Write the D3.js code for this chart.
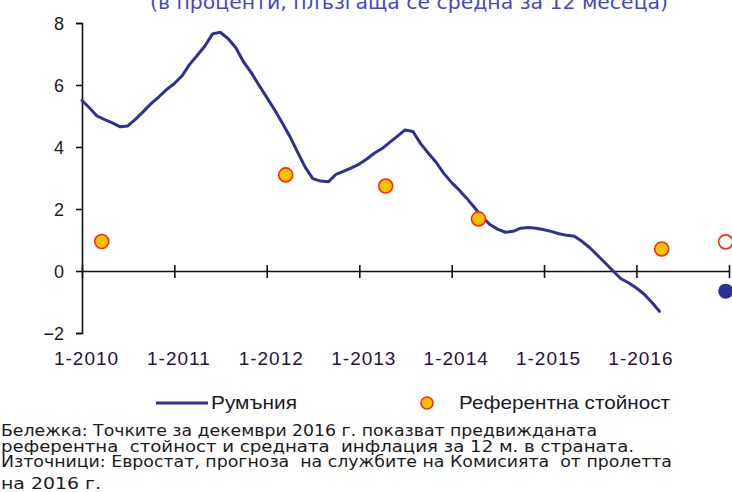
<!DOCTYPE html>
<html>
<head>
<meta charset="utf-8">
<script src="https://cdn.jsdelivr.net/npm/d3@7"></script>
<style>
  body { margin: 0; background: #fff; }
  svg { display: block; }
  .tick text { font-family: "Liberation Sans", Arial, sans-serif; }
</style>
</head>
<body>
<div id="container"><svg></svg></div>
<script>
let width = 732;
let height = 492;

// месечни стойности, Румъния (от 1-2010 до 4-2016)
let startMonth = '2010-01-01';
let romania = [
    5.5, 5.25, 5.0, 4.88, 4.78, 4.65, 4.68, 4.9, 5.15, 5.4, 5.62, 5.85,
    6.05, 6.3, 6.65, 6.95, 7.25, 7.65, 7.7, 7.5, 7.2, 6.75, 6.4, 6.0,
    5.6, 5.2, 4.8, 4.35, 3.85, 3.35, 2.98, 2.9, 2.88, 3.12, 3.22, 3.33,
    3.45, 3.62, 3.8, 3.95, 4.15, 4.35, 4.55, 4.5, 4.1, 3.8, 3.5, 3.15,
    2.85, 2.6, 2.35, 2.05, 1.75, 1.5, 1.35, 1.25, 1.28, 1.38, 1.4, 1.38,
    1.33, 1.27, 1.2, 1.15, 1.12, 0.95, 0.75, 0.5, 0.25, 0.0, -0.25, -0.38,
    -0.55, -0.75, -1.0, -1.3
];
// референтна стойност
let refDates = ['2010-03-20', '2012-03-16', '2013-04-15', '2014-04-17', '2016-04-10'];
let refValues = [0.95, 3.1, 2.74, 1.68, 0.71];
// прогноза за декември 2016
let forecastDate = '2016-12-19';
let forecastRef = 0.94;
let forecastRomania = -0.65;

let xTickDates = ['2010-01-01', '2011-01-01', '2012-01-01', '2013-01-01', '2014-01-01', '2015-01-01', '2016-01-01', '2017-01-01'];
let xTickLabels = ['1-2010', '1-2011', '1-2012', '1-2013', '1-2014', '1-2015', '1-2016', ''];
let yTicks = [-2, 0, 2, 4, 6, 8];

let parse = d3.timeParse('%Y-%m-%d');
let lineColor = '#2e3192';

let svg = d3.select('#container').select('svg')
    .attr('width', width)
    .attr('height', height);

let x = d3.scaleTime()
    .domain([parse('2010-01-01'), parse('2017-01-01')])
    .range([82, 729]);
let y = d3.scaleLinear()
    .domain([-2, 8])
    .range([333, 23]);

// заглавие (отрязано отгоре)
svg.append('text')
    .attr('x', 150).attr('y', 9)
    .attr('textLength', 518)
    .attr('lengthAdjust', 'spacingAndGlyphs')
    .attr('font-family', '"DejaVu Sans", sans-serif')
    .attr('font-size', 19)
    .attr('fill', '#4646cc')
    .text('(в проценти, плъзгаща се средна за 12 месеца)');

// оста y
let yAxis = svg.append('g')
    .attr('transform', 'translate(82,0)')
    .call(d3.axisLeft(y).tickValues(yTicks).tickSize(6).tickPadding(12).tickFormat(d3.format('d')));
yAxis.select('.domain').attr('stroke', '#111').attr('stroke-width', 1.6);
yAxis.selectAll('.tick line').attr('stroke', '#111').attr('stroke-width', 1.6);
yAxis.selectAll('.tick text')
    .attr('font-size', 18)
    .attr('fill', '#1a1a1a')
    .attr('dy', '0.36em');

// оста x при нула
let xAxis = svg.append('g')
    .attr('transform', `translate(0,${y(0)})`)
    .call(d3.axisBottom(x).tickValues(xTickDates.map(parse)).tickSizeOuter(0).tickSize(0)
        .tickFormat((d, i) => xTickLabels[i]));
xAxis.select('.domain').attr('stroke', '#111').attr('stroke-width', 1.6);
xAxis.selectAll('.tick line').remove();
xAxis.selectAll('.tick').append('line')
    .attr('y1', -6).attr('y2', 7)
    .attr('stroke', '#111').attr('stroke-width', 1.6);
xAxis.selectAll('.tick text')
    .attr('y', 365 - y(0))
    .attr('dy', 0)
    .attr('dx', 4)
    .attr('font-size', 19)
    .attr('letter-spacing', 1)
    .attr('fill', '#2a1040');

// линия Румъния
let monthly = romania.map((v, i) => ({ date: d3.timeMonth.offset(parse(startMonth), i), value: v }));
let line = d3.line()
    .x(d => x(d.date))
    .y(d => y(d.value));
svg.append('path')
    .datum(monthly)
    .attr('fill', 'none')
    .attr('stroke', lineColor)
    .attr('stroke-width', 3)
    .attr('stroke-linejoin', 'round')
    .attr('stroke-linecap', 'round')
    .attr('d', line);

// референтни стойности
svg.append('g')
    .selectAll('circle')
    .data(refDates.map((d, i) => ({ date: parse(d), value: refValues[i] })))
    .join('circle')
    .attr('cx', d => x(d.date))
    .attr('cy', d => y(d.value))
    .attr('r', 7)
    .attr('fill', '#ffc000')
    .attr('stroke', '#ff2a10')
    .attr('stroke-width', 1.6);

// прогнози
svg.append('circle')
    .attr('cx', x(parse(forecastDate)))
    .attr('cy', y(forecastRef))
    .attr('r', 7)
    .attr('fill', '#fff')
    .attr('stroke', '#ff2a10')
    .attr('stroke-width', 1.6);
svg.append('circle')
    .attr('cx', x(parse(forecastDate)))
    .attr('cy', y(forecastRomania))
    .attr('r', 7.5)
    .attr('fill', lineColor);

// легенда
let legend = svg.append('g').attr('font-family', '"Liberation Sans", Arial, sans-serif').attr('font-size', 19).attr('fill', '#1a1a2a');
legend.append('line')
    .attr('x1', 156).attr('x2', 208).attr('y1', 403).attr('y2', 403)
    .attr('stroke', lineColor).attr('stroke-width', 3);
legend.append('text')
    .attr('x', 211).attr('y', 409)
    .attr('textLength', 86).attr('lengthAdjust', 'spacingAndGlyphs')
    .text('Румъния');
legend.append('circle')
    .attr('cx', 427).attr('cy', 403).attr('r', 6)
    .attr('fill', '#ffc000').attr('stroke', '#ff2a10').attr('stroke-width', 1.6);
legend.append('text')
    .attr('x', 459).attr('y', 409)
    .attr('textLength', 211).attr('lengthAdjust', 'spacingAndGlyphs')
    .text('Референтна стойност');

// бележка и източници
let notes = [
    { t: 'Бележка: Точките за декември 2016 г. показват предвижданата', y: 436, w: 596 },
    { t: 'референтна  стойност и средната  инфлация за 12 м. в страната.', y: 452, w: 633 },
    { t: 'Източници: Евростат, прогноза  на службите на Комисията  от пролетта', y: 467, w: 671 },
    { t: 'на 2016 г.', y: 489, w: 100 }
];
svg.append('g')
    .selectAll('text')
    .data(notes)
    .join('text')
    .attr('x', 1)
    .attr('y', d => d.y)
    .attr('textLength', d => d.w)
    .attr('lengthAdjust', 'spacingAndGlyphs')
    .attr('font-family', '"DejaVu Sans", sans-serif')
    .attr('font-size', 16)
    .attr('fill', '#1a1a1a')
    .attr('xml:space', 'preserve')
    .style('white-space', 'pre')
    .text(d => d.t);
</script>
</body>
</html>
